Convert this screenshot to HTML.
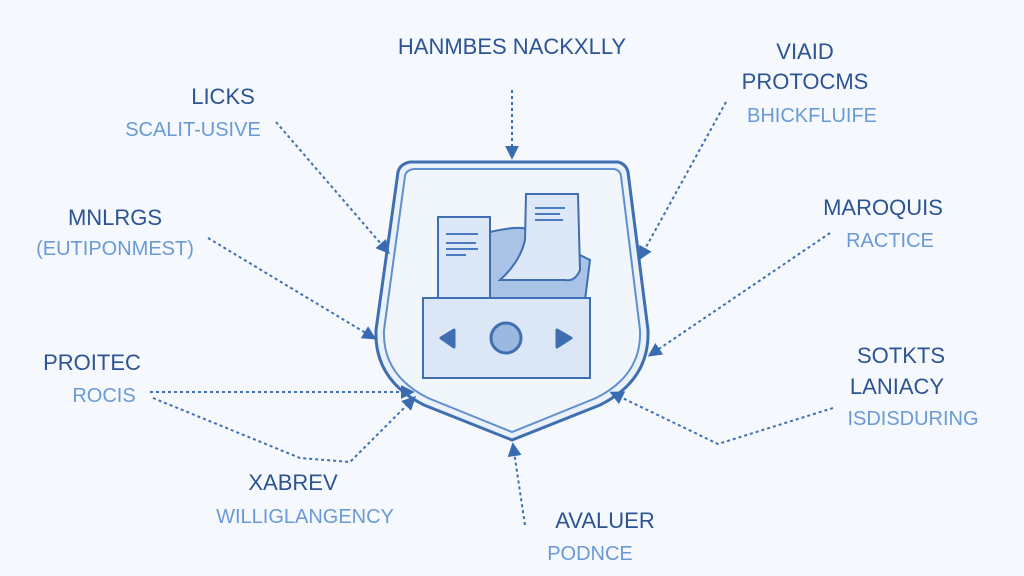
<!DOCTYPE html>
<html><head><meta charset="utf-8"><style>
html,body{margin:0;padding:0;background:#f5f8fc;}
svg{display:block}
text{font-family:"Liberation Sans",sans-serif;}
.h{fill:#2c5394;font-size:22px;}
.s{fill:#6a9ad6;font-size:20px;}
.c{stroke:#3f6fb0;stroke-width:2;stroke-dasharray:3 3;fill:none;}
</style></head><body>
<svg width="1024" height="576" viewBox="0 0 1024 576">
<defs><marker id="a" viewBox="0 0 10 10" refX="8" refY="5" markerWidth="7" markerHeight="7" orient="auto"><path d="M0,0L10,5L0,10z" fill="#3a6bb0"/></marker></defs>
<rect width="1024" height="576" fill="#f5f8fc"/>
<path d="M410,162 L618,162 Q626,164 628,172 L648,330 Q650,380 600,405 L512,440 L424,405 Q374,380 376,330 L398,172 Q400,164 410,162Z" fill="#eaf1fa" stroke="#3f6fb0" stroke-width="3"/>
<path d="M414,169 L614,169 Q620,170 621,176 L640,330 Q642,375 596,398 L512,432 L428,398 Q382,375 384,330 L405,176 Q406,170 414,169Z" fill="#f1f6fc" stroke="#5f8fcf" stroke-width="2"/>
<path d="M490,232 Q520,225 530,230 L590,260 L585,300 L490,300Z" fill="#a9c3e6" stroke="#3f6fb0" stroke-width="2"/>
<rect x="438" y="217" width="52" height="82" fill="#dce8f7" stroke="#3f6fb0" stroke-width="2"/>
<line x1="446" y1="234" x2="478" y2="234" stroke="#4a7bbf" stroke-width="2"/>
<line x1="446" y1="243" x2="476" y2="243" stroke="#4a7bbf" stroke-width="2"/>
<line x1="446" y1="249" x2="478" y2="249" stroke="#4a7bbf" stroke-width="2"/>
<line x1="446" y1="255" x2="466" y2="255" stroke="#4a7bbf" stroke-width="2"/>
<path d="M526,194 L578,194 L580,270 Q575,282 565,280 L500,280 Q520,262 525,240Z" fill="#dce8f7" stroke="#3f6fb0" stroke-width="2"/>
<line x1="535" y1="208" x2="565" y2="208" stroke="#4a7bbf" stroke-width="2"/>
<line x1="535" y1="214" x2="560" y2="214" stroke="#4a7bbf" stroke-width="2"/>
<line x1="535" y1="220" x2="563" y2="220" stroke="#4a7bbf" stroke-width="2"/>
<rect x="423" y="298" width="167" height="80" fill="#dbe7f6" stroke="#3f6fb0" stroke-width="2"/>
<circle cx="506" cy="338" r="15" fill="#9ab8df" stroke="#3f6fb0" stroke-width="3"/>
<polygon points="454,330 441,338 454,347" fill="#3f6fb0" stroke="#3f6fb0" stroke-width="3" stroke-linejoin="round"/>
<polygon points="557,330 571,338 557,347" fill="#3f6fb0" stroke="#3f6fb0" stroke-width="3" stroke-linejoin="round"/>
<path class="c" d="M512,90 L512,157" marker-end="url(#a)"/>
<path class="c" d="M276,122 L388,252" marker-end="url(#a)"/>
<path class="c" d="M208,238 L374,338" marker-end="url(#a)"/>
<path class="c" d="M150,392 L412,392" marker-end="url(#a)"/>
<path class="c" d="M153,398 L300,458 L350,462 L414,398" marker-end="url(#a)"/>
<path class="c" d="M726,102 L640,258" marker-end="url(#a)"/>
<path class="c" d="M830,233 L650,355" marker-end="url(#a)"/>
<path class="c" d="M833,408 L718,444 L612,393" marker-end="url(#a)"/>
<path class="c" d="M525,525 L513,445" marker-end="url(#a)"/>
<text class="h" x="512" y="54" text-anchor="middle">HANMBES NACKXLLY</text>
<text class="h" x="223" y="104" text-anchor="middle">LICKS</text>
<text class="s" x="193" y="136" text-anchor="middle">SCALIT-USIVE</text>
<text class="h" x="115" y="225" text-anchor="middle">MNLRGS</text>
<text class="s" x="115" y="255" text-anchor="middle">(EUTIPONMEST)</text>
<text class="h" x="92" y="370" text-anchor="middle">PROITEC</text>
<text class="s" x="104" y="402" text-anchor="middle">ROCIS</text>
<text class="h" x="293" y="490" text-anchor="middle">XABREV</text>
<text class="s" x="305" y="523" text-anchor="middle">WILLIGLANGENCY</text>
<text class="h" x="805" y="59" text-anchor="middle">VIAID</text>
<text class="h" x="805" y="89" text-anchor="middle">PROTOCMS</text>
<text class="s" x="812" y="122" text-anchor="middle">BHICKFLUIFE</text>
<text class="h" x="883" y="215" text-anchor="middle">MAROQUIS</text>
<text class="s" x="890" y="247" text-anchor="middle">RACTICE</text>
<text class="h" x="901" y="363" text-anchor="middle">SOTKTS</text>
<text class="h" x="897" y="394" text-anchor="middle">LANIACY</text>
<text class="s" x="913" y="425" text-anchor="middle">ISDISDURING</text>
<text class="h" x="605" y="528" text-anchor="middle">AVALUER</text>
<text class="s" x="590" y="560" text-anchor="middle">PODNCE</text>
</svg>
</body></html>
